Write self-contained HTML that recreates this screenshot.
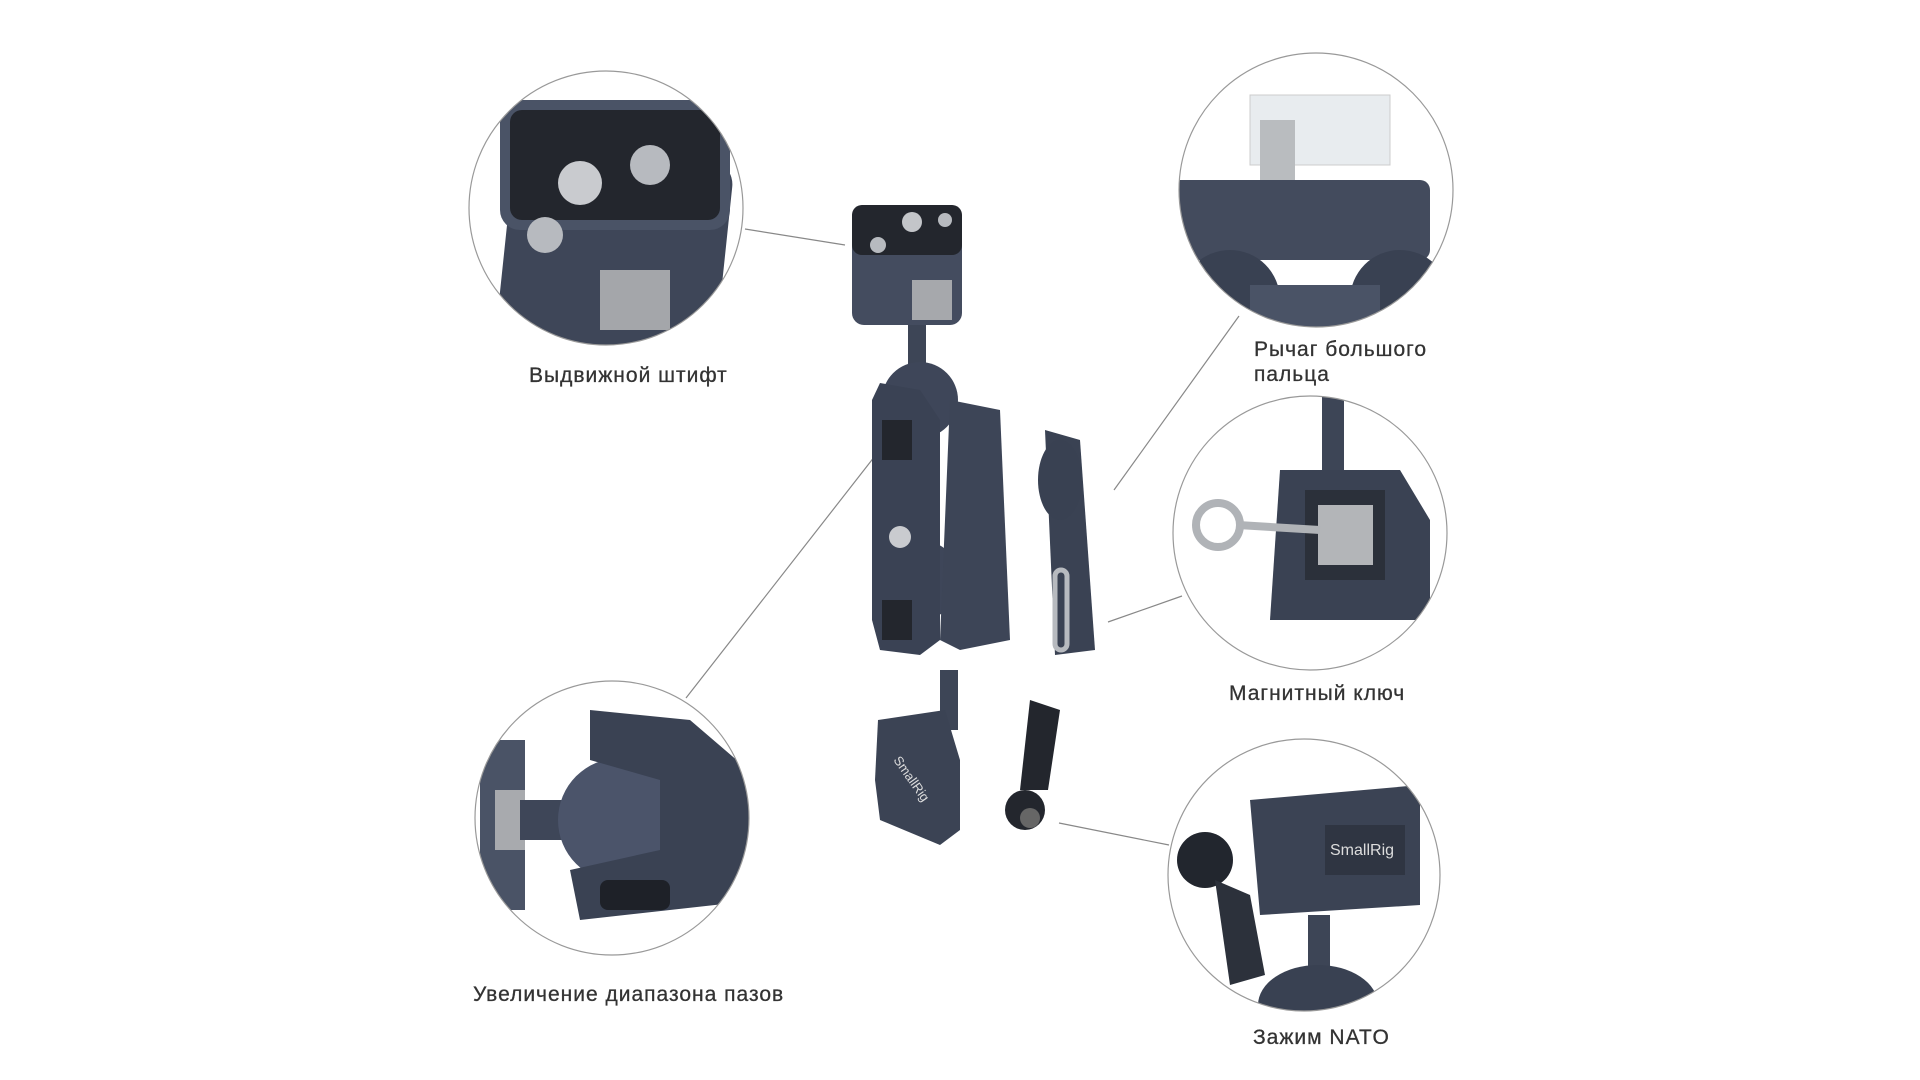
<!DOCTYPE html>
<html><head><meta charset="utf-8"><style>
body{margin:0;width:1920px;height:1080px;background:#fff;overflow:hidden;position:relative;font-family:"Liberation Sans",sans-serif}
.l{position:absolute;font-size:21px;color:#333;letter-spacing:1px;line-height:25px;-webkit-text-stroke:0.3px #333}
svg{position:absolute;left:0;top:0}
</style></head><body>
<svg width="1920" height="1080" viewBox="0 0 1920 1080">
<g stroke="#888" stroke-width="1.2" fill="none">
<line x1="745" y1="229" x2="845" y2="245"/>
<line x1="1239" y1="316" x2="1114" y2="490"/>
<line x1="686" y1="698" x2="882" y2="447"/>
<line x1="1182" y1="596" x2="1108" y2="622"/>
<line x1="1169" y1="845" x2="1059" y2="823"/>
</g>
<defs>
<clipPath id="c1"><circle cx="606" cy="208" r="137"/></clipPath>
<clipPath id="c2"><circle cx="1316" cy="190" r="137"/></clipPath>
<clipPath id="c3"><circle cx="1310" cy="533" r="137"/></clipPath>
<clipPath id="c4"><circle cx="612" cy="818" r="137"/></clipPath>
<clipPath id="c5"><circle cx="1304" cy="875" r="136"/></clipPath>
</defs>
<g clip-path="url(#c1)">
<rect x="505" y="150" width="220" height="200" rx="25" fill="#3e4658" transform="rotate(6 615 250)"/>
<rect x="500" y="100" width="230" height="130" rx="20" fill="#4a5366"/>
<rect x="510" y="110" width="210" height="110" rx="12" fill="#23262d"/>
<circle cx="580" cy="183" r="22" fill="#c9cbcf"/><circle cx="650" cy="165" r="20" fill="#b7babf"/><circle cx="545" cy="235" r="18" fill="#b7babf"/>
<rect x="600" y="270" width="70" height="60" fill="#a4a6aa"/>
</g>
<circle cx="606" cy="208" r="137" fill="none" stroke="#999" stroke-width="1.2"/>
<g clip-path="url(#c2)">
<rect x="1250" y="95" width="140" height="70" fill="#e8ecef" stroke="#ccc"/>
<rect x="1260" y="120" width="35" height="100" fill="#b9bcbf"/>
<rect x="1170" y="180" width="260" height="80" rx="10" fill="#434b5d"/>
<circle cx="1230" cy="300" r="50" fill="#394152"/><circle cx="1400" cy="300" r="50" fill="#394152"/>
<rect x="1250" y="285" width="130" height="60" fill="#4a5366"/>
</g>
<circle cx="1316" cy="190" r="137" fill="none" stroke="#999" stroke-width="1.2"/>
<g clip-path="url(#c3)">
<rect x="1322" y="390" width="22" height="100" fill="#3d4556"/>
<path d="M1280 470 L1400 470 L1430 520 L1430 620 L1270 620 Z" fill="#3a4253"/>
<rect x="1305" y="490" width="80" height="90" fill="#2b303a"/>
<rect x="1318" y="505" width="55" height="60" fill="#b3b5b8"/>
<circle cx="1218" cy="525" r="22" fill="none" stroke="#b0b3b7" stroke-width="8"/>
<line x1="1238" y1="525" x2="1320" y2="530" stroke="#b0b3b7" stroke-width="8"/>
</g>
<circle cx="1310" cy="533" r="137" fill="none" stroke="#999" stroke-width="1.2"/>
<g clip-path="url(#c4)">
<rect x="480" y="740" width="45" height="170" fill="#4a5366"/>
<rect x="495" y="790" width="30" height="60" fill="#a8aaae"/>
<rect x="520" y="800" width="70" height="40" fill="#3e4658"/>
<circle cx="620" cy="820" r="62" fill="#4b546a"/>
<path d="M590 710 L690 720 L760 780 L760 900 L580 920 L570 870 L660 850 L660 780 L590 760 Z" fill="#3a4253"/>
<rect x="600" y="880" width="70" height="30" rx="8" fill="#1e2128"/>
</g>
<circle cx="612" cy="818" r="137" fill="none" stroke="#999" stroke-width="1.2"/>
<g clip-path="url(#c5)">
<path d="M1250 800 L1420 785 L1420 905 L1260 915 Z" fill="#3b4354"/>
<rect x="1325" y="825" width="80" height="50" fill="#2f3542"/>
<text x="1330" y="855" font-size="16" fill="#ddd" font-family="Liberation Sans">SmallRig</text>
<circle cx="1205" cy="860" r="28" fill="#22262e"/>
<path d="M1215 880 L1250 895 L1265 975 L1230 985 Z" fill="#2c313b"/>
<rect x="1308" y="915" width="22" height="70" fill="#3d4556"/>
<ellipse cx="1318" cy="1005" rx="60" ry="40" fill="#394152"/>
</g>
<circle cx="1304" cy="875" r="136" fill="none" stroke="#999" stroke-width="1.2"/>
<g>
<rect x="852" y="205" width="110" height="120" rx="12" fill="#444c5f"/>
<rect x="852" y="205" width="110" height="50" rx="10" fill="#23262d"/>
<circle cx="912" cy="222" r="10" fill="#c3c5c9"/><circle cx="878" cy="245" r="8" fill="#b7babf"/><circle cx="945" cy="220" r="7" fill="#b7babf"/>
<rect x="912" y="280" width="40" height="40" fill="#a6a8ac"/>
<rect x="908" y="325" width="18" height="60" fill="#3d4556"/>
<circle cx="920" cy="400" r="38" fill="#3e4659"/>
<circle cx="920" cy="580" r="40" fill="#3e4659"/>
<path d="M880 383 L920 390 L940 420 L940 640 L920 655 L880 650 L872 620 L872 400 Z" fill="#3a4254"/>
<rect x="882" y="420" width="30" height="40" fill="#23262d"/>
<rect x="882" y="600" width="30" height="40" fill="#23262d"/>
<circle cx="900" cy="537" r="11" fill="#c9cbcf"/>
<path d="M950 400 L1000 410 L1010 640 L960 650 L940 640 Z" fill="#3d4557"/>
<path d="M1045 430 L1080 440 L1095 650 L1055 655 Z" fill="#3a4253"/>
<ellipse cx="1060" cy="480" rx="22" ry="40" fill="#394152"/>
<rect x="1055" y="570" width="12" height="80" rx="6" fill="none" stroke="#b7babf" stroke-width="5"/>
<rect x="940" y="670" width="18" height="60" fill="#3d4556"/>
<path d="M878 720 L945 710 L960 760 L960 830 L940 845 L880 820 L875 780 Z" fill="#3b4354"/>
<text x="893" y="760" font-size="13" fill="#ddd" transform="rotate(55 893 760)">SmallRig</text>
<path d="M1030 700 L1060 710 L1048 790 L1020 790 Z" fill="#23262d"/>
<circle cx="1025" cy="810" r="20" fill="#23262d"/><circle cx="1030" cy="818" r="10" fill="#666"/>
</g>
</svg>
<div class="l" style="left:529px;top:363px">Выдвижной штифт</div>
<div class="l" style="left:1254px;top:337px">Рычаг большого<br>пальца</div>
<div class="l" style="left:1229px;top:681px">Магнитный ключ</div>
<div class="l" style="left:473px;top:982px">Увеличение диапазона пазов</div>
<div class="l" style="left:1253px;top:1025px">Зажим NATO</div>
</body></html>
